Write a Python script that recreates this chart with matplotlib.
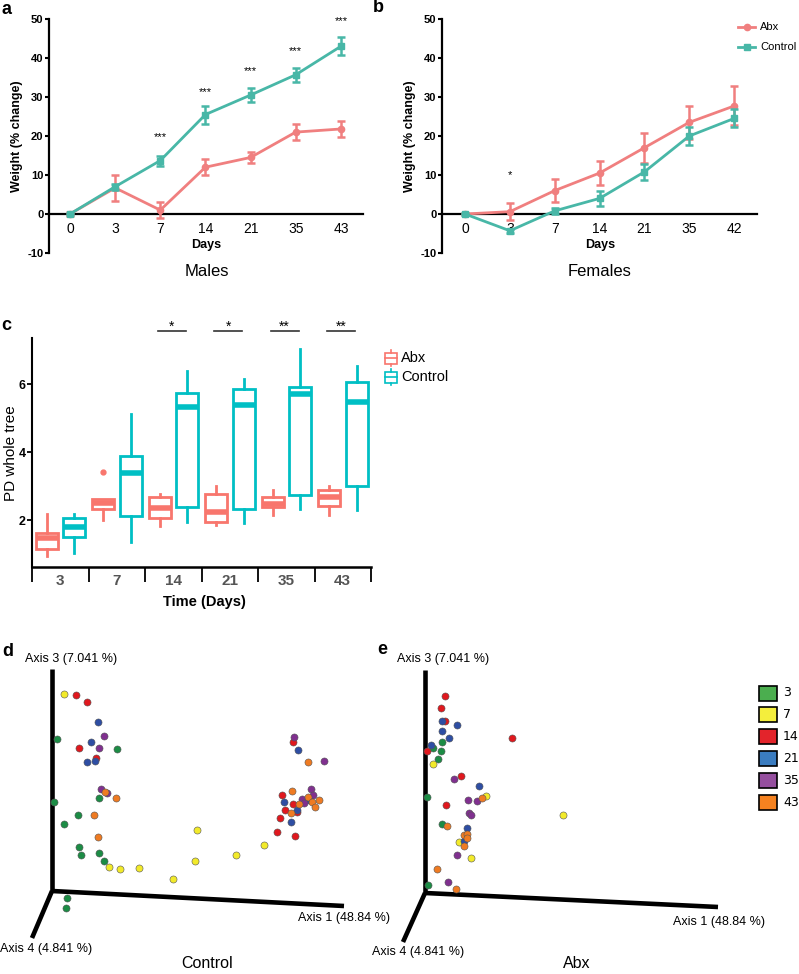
import matplotlib
matplotlib.use('Agg')
import matplotlib.pyplot as plt
import numpy as np
from matplotlib.patches import Rectangle

plt.rcParams['font.family'] = ['Liberation Sans', 'DejaVu Sans']
plt.rcParams['axes.unicode_minus'] = False
NARROW = ['Liberation Sans Narrow', 'Liberation Sans', 'DejaVu Sans']

# ---------------- data ----------------
days_m = ['0', '3', '7', '14', '21', '35', '43']
male_abx = [0, 6.7, 1.0, 12.0, 14.5, 21.0, 21.8]
male_abx_err = [0.4, 3.3, 2.0, 2.0, 1.5, 2.0, 2.0]
male_ctl = [0, 7.0, 13.7, 25.5, 30.5, 35.7, 43.0]
male_ctl_err = [0.3, 0.8, 1.3, 2.3, 1.7, 1.8, 2.3]
male_stars = ['', '', '***', '***', '***', '***', '***']
male_star_y = [0, 0, 19.7, 31.3, 36.7, 41.8, 49.5]

days_f = ['0', '3', '7', '14', '21', '35', '42']
fem_abx = [0, 0.6, 6.0, 10.5, 17.0, 23.5, 27.7]
fem_abx_err = [0.3, 2.1, 2.9, 3.1, 3.8, 4.2, 5.0]
fem_ctl = [0, -4.3, 0.8, 4.0, 10.8, 20.0, 24.5]
fem_ctl_err = [0.2, 0.5, 0.8, 2.0, 2.0, 2.3, 2.3]
fem_stars = ['', '*', '', '', '', '', '']
fem_star_y = [0, 10.0, 0, 0, 0, 0, 0]

groups_c = ['3', '7', '14', '21', '35', '43']
abx_lo = [0.94, 2.00, 1.82, 1.86, 2.15, 2.15]
abx_q1 = [1.16, 2.32, 2.05, 1.95, 2.37, 2.42]
abx_med = [1.46, 2.50, 2.34, 2.25, 2.47, 2.69]
abx_q3 = [1.63, 2.63, 2.69, 2.76, 2.67, 2.87]
abx_hi = [2.18, 2.63, 2.76, 3.00, 2.88, 3.00]
abx_out = [[], [3.41], [], [], [], []]
ctl_lo = [1.03, 1.36, 1.95, 1.92, 2.32, 2.29]
ctl_q1 = [1.50, 2.12, 2.37, 2.32, 2.74, 3.01]
ctl_med = [1.78, 3.37, 5.33, 5.38, 5.71, 5.48]
ctl_q3 = [2.06, 3.89, 5.73, 5.84, 5.91, 6.05]
ctl_hi = [2.18, 5.12, 6.38, 6.15, 7.03, 6.53]
ctl_out = [[], [], [], [], [], []]
sig_c = ['', '', '*', '*', '**', '**']

pcoa_days = ['3', '7', '14', '21', '35', '43']
# projected ordination coordinates (Axis 1 projection, Axis 3 projection)
ctrl_pts = {
    '3': ([5, 65, 47, 2, 26, 12, 27, 29, 47, 52, 15, 14],
          [152, 142, 93, 89, 76, 67, 44, 36, 38, 30, -7, -17]),
    '7': ([12, 57, 68, 87, 121, 143, 145, 184, 212],
          [197, 24, 22, 23, 12, 30, 61, 36, 46]),
    '14': ([24, 35, 27, 44, 241, 230, 241, 233, 245, 228, 225, 243],
           [196, 189, 143, 133, 149, 96, 87, 81, 79, 73, 59, 55]),
    '21': ([46, 39, 43, 35, 246, 232, 257, 245, 239],
           [169, 149, 130, 129, 141, 89, 91, 81, 69]),
    '35': ([52, 47, 49, 55, 242, 272, 259, 250, 261, 252],
           [155, 143, 102, 98, 154, 130, 102, 92, 96, 88]),
    '43': ([53, 64, 42, 46, 256, 240, 256, 267, 260, 239, 247, 263],
           [99, 93, 76, 54, 129, 100, 94, 91, 89, 78, 87, 84]),
}
abx_pts = {
    '3': ([17, 8, 16, 13, 2, 17, 3],
          [151, 145, 142, 134, 96, 69, 8]),
    '7': ([8, 61, 34, 46, 138],
          [129, 97, 51, 35, 78]),
    '14': ([20, 16, 20, 2, 36, 21, 87],
           [197, 185, 172, 142, 117, 88, 155]),
    '21': ([17, 32, 17, 24, 6, 54, 42, 39],
           [172, 168, 162, 155, 148, 107, 65, 52]),
    '35': ([29, 43, 52, 44, 46, 32, 23],
           [114, 93, 92, 80, 78, 38, 11]),
    '43': ([57, 22, 39, 42, 42, 39, 12, 31],
           [95, 67, 58, 59, 55, 47, 24, 4]),
}

# ---------------- styles ----------------
PINK = '#F07F7F'
TEAL = '#48B7A7'
C_ABX = '#F8766D'
C_CTL = '#00BFC4'
pt_colors = ['#1c8c45', '#f2ea2a', '#e0181e', '#2e4ea3', '#80308f', '#ef7b22']
leg_colors = ['#4bae4f', '#f4ee3c', '#e3242b', '#3a7cc0', '#954f9f', '#f58220']

W, H = 799, 974
fig = plt.figure(figsize=(W / 100, H / 100), dpi=100)


def fax(x0, y0, x1, y1, **kw):
    return fig.add_axes([x0 / W, 1 - y1 / H, (x1 - x0) / W, (y1 - y0) / H], **kw)


ov = fax(0, 0, W, H)
ov.set_xlim(0, W)
ov.set_ylim(H, 0)
ov.axis('off')


def weight_panel(x0, x1, xlo, xhi, days, abx, abxe, ctl, ctle, stars, stary):
    ax = fax(x0, 19, x1, 253)
    x = np.arange(len(days))
    ax.errorbar(x, abx, yerr=abxe, color=PINK, marker='o', ms=4.5, lw=2,
                elinewidth=1.8, capsize=3, capthick=1.8, zorder=3)
    ax.errorbar(x, ctl, yerr=ctle, color=TEAL, marker='s', ms=4.5, lw=2,
                elinewidth=1.8, capsize=3, capthick=1.8, zorder=4)
    for xi, s, sy in zip(x, stars, stary):
        if s:
            ax.text(xi, sy, s, ha='center', va='center', fontsize=8)
    ax.set_xlim(xlo, xhi)
    ax.set_ylim(-10, 50)
    ax.set_yticks(np.arange(-10, 51, 10))
    ax.set_xticks(x)
    ax.set_xticklabels(days, fontweight='bold', fontsize=8.5)
    for lab in ax.get_yticklabels():
        lab.set_fontweight('bold')
        lab.set_fontsize(8)
    ax.spines['bottom'].set_position(('data', 0))
    ax.spines['top'].set_visible(False)
    ax.spines['right'].set_visible(False)
    ax.spines['left'].set_linewidth(1.6)
    ax.spines['bottom'].set_linewidth(1.6)
    ax.tick_params(axis='x', length=0, pad=6)
    ax.tick_params(axis='y', length=3, width=1.5, pad=1)
    ax.set_ylabel('Weight (% change)', fontweight='bold', fontsize=9, labelpad=3)
    ax.patch.set_alpha(0)
    return ax


weight_panel(49, 363, -0.465, 6.49, days_m, male_abx, male_abx_err,
             male_ctl, male_ctl_err, male_stars, male_star_y)
weight_panel(442, 757, -0.513, 6.51, days_f, fem_abx, fem_abx_err,
             fem_ctl, fem_ctl_err, fem_stars, fem_star_y)

ov.text(206, 245, 'Days', ha='center', va='center', fontsize=9, fontweight='bold')
ov.text(600, 245, 'Days', ha='center', va='center', fontsize=9, fontweight='bold')
ov.text(207, 272, 'Males', ha='center', va='center', fontsize=12)
ov.text(600, 272, 'Females', ha='center', va='center', fontsize=12)

# legend panel b
for k, (lab, col, mk) in enumerate([('Abx', PINK, 'o'), ('Control', TEAL, 's')]):
    yy = 27 + 20 * k
    ov.plot([738, 755], [yy, yy], color=col, lw=2)
    ov.plot([746.5], [yy], marker=mk, color=col, ms=4.5)
    ov.text(760, yy, lab, ha='left', va='center', fontsize=8)

# ---------------- panel c ----------------
axc = fax(32, 338, 371, 567)
xc = np.arange(len(groups_c))
off_a, off_c, bw = -0.235, 0.245, 0.39


def stats(lo, q1, med, q3, hi, out):
    return [dict(whislo=a, q1=b, med=c, q3=d, whishi=e, fliers=f)
            for a, b, c, d, e, f in zip(lo, q1, med, q3, hi, out)]


for st, off, col in [(stats(abx_lo, abx_q1, abx_med, abx_q3, abx_hi, abx_out), off_a, C_ABX),
                     (stats(ctl_lo, ctl_q1, ctl_med, ctl_q3, ctl_hi, ctl_out), off_c, C_CTL)]:
    axc.bxp(st, positions=xc + off, widths=bw, patch_artist=True, showcaps=False,
            boxprops=dict(facecolor='white', edgecolor=col, lw=2.0),
            medianprops=dict(color=col, lw=4.0, solid_capstyle='butt'),
            whiskerprops=dict(color=col, lw=2.0),
            flierprops=dict(marker='o', mfc=col, mec=col, ms=3.5))

for xi, s in zip(xc, sig_c):
    if s:
        axc.plot([xi - 0.27, xi + 0.22], [7.56, 7.56], color='#333333', lw=1.2,
                 clip_on=False)
        axc.text(xi - 0.03, 7.58, s, ha='center', va='baseline', fontsize=10)

axc.set_xlim(-0.5, 5.5)
axc.set_ylim(0.618, 7.353)
axc.set_yticks([2, 4, 6])
for lab in axc.get_yticklabels():
    lab.set_fontweight('bold')
    lab.set_fontsize(9)
axc.set_xticks(np.arange(-0.5, 5.6, 1.0))
axc.set_xticklabels([])
axc.set_xticks(xc, minor=True)
axc.set_xticklabels(groups_c, minor=True, fontweight='bold', fontsize=11,
                    color='#555555', family=NARROW)
axc.tick_params(axis='x', which='major', length=11, width=1.3, direction='out')
axc.tick_params(axis='x', which='minor', length=0, pad=5)
axc.tick_params(axis='y', length=3.5, width=1.3, pad=1)
axc.spines['top'].set_visible(False)
axc.spines['right'].set_visible(False)
axc.spines['left'].set_linewidth(1.5)
axc.spines['bottom'].set_linewidth(1.8)
axc.patch.set_alpha(0)
ov.text(11, 453, 'PD whole tree', ha='center', va='center', rotation=90, fontsize=11)
ov.text(204, 602, 'Time (Days)', ha='center', va='center', fontsize=10.5,
        fontweight='bold', family=NARROW)

# legend panel c
for k, (lab, col) in enumerate([('Abx', C_ABX), ('Control', C_CTL)]):
    yc = 358 + 19 * k
    ov.add_patch(Rectangle((385, yc - 5.5), 12, 11, fill=False, ec=col, lw=1.2))
    ov.plot([385, 397], [yc, yc], color=col, lw=1.2)
    ov.plot([391, 391], [yc - 8, yc - 5.5], color=col, lw=1.2)
    ov.plot([391, 391], [yc + 5.5, yc + 8], color=col, lw=1.2)
    ov.text(401, yc, lab, ha='left', va='center', fontsize=10.5, family=NARROW)

# ---------------- panels d, e ----------------


def pcoa_panel(box, origin, ends, pts):
    x0, y0, x1, y1 = box
    ox, oy = origin
    ax = fax(x0, y0, x1, y1)
    ax.set_xlim(x0 - ox, x1 - ox)
    ax.set_ylim(oy - y1, oy - y0)
    ax.axis('off')
    for ex, ey in ends:
        ax.plot([0, ex], [0, ey], color='black', lw=3.3, solid_capstyle='butt',
                clip_on=False)
    for d, col in zip(pcoa_days, pt_colors):
        px, py = pts[d]
        ax.scatter(px, py, s=26, c=col, edgecolors='#555555', linewidths=0.4,
                   zorder=3, clip_on=False)
    return ax


pcoa_panel((0, 620, 400, 974), (52, 891), [(0, 222), (292, -15), (-20, -47)], ctrl_pts)
pcoa_panel((400, 620, 799, 974), (425, 893), [(0, 223), (293, -14), (-22, -49)], abx_pts)

for xl, yl, t in [(25, 659, 'Axis 3 (7.041 %)'), (298, 918, 'Axis 1 (48.84 %)'),
                  (0, 949, 'Axis 4 (4.841 %)'), (397, 659, 'Axis 3 (7.041 %)'),
                  (673, 922, 'Axis 1 (48.84 %)'), (372, 952, 'Axis 4 (4.841 %)')]:
    ov.text(xl, yl, t, ha='left', va='center', fontsize=9)
ov.text(207, 964, 'Control', ha='center', va='center', fontsize=11.5)
ov.text(577, 964, 'Abx', ha='center', va='center', fontsize=11.5)

# legend for pcoa
for k, (d, col) in enumerate(zip(pcoa_days, leg_colors)):
    yc = 693 + 21.9 * k
    ov.add_patch(Rectangle((758.5, yc - 7.5), 18.5, 15, fc=col, ec='black', lw=1.2))
    ov.text(783, yc, d, ha='left', va='center', fontsize=9, family=['DejaVu Sans'])

# panel letters
for t, xl, yl in [('a', 2, 9), ('b', 373, 8), ('c', 1, 326), ('d', 2, 651), ('e', 377, 650)]:
    ov.text(xl, yl, t, ha='left', va='center', fontsize=13, fontweight='bold')

fig.savefig('out.png', dpi=100)
